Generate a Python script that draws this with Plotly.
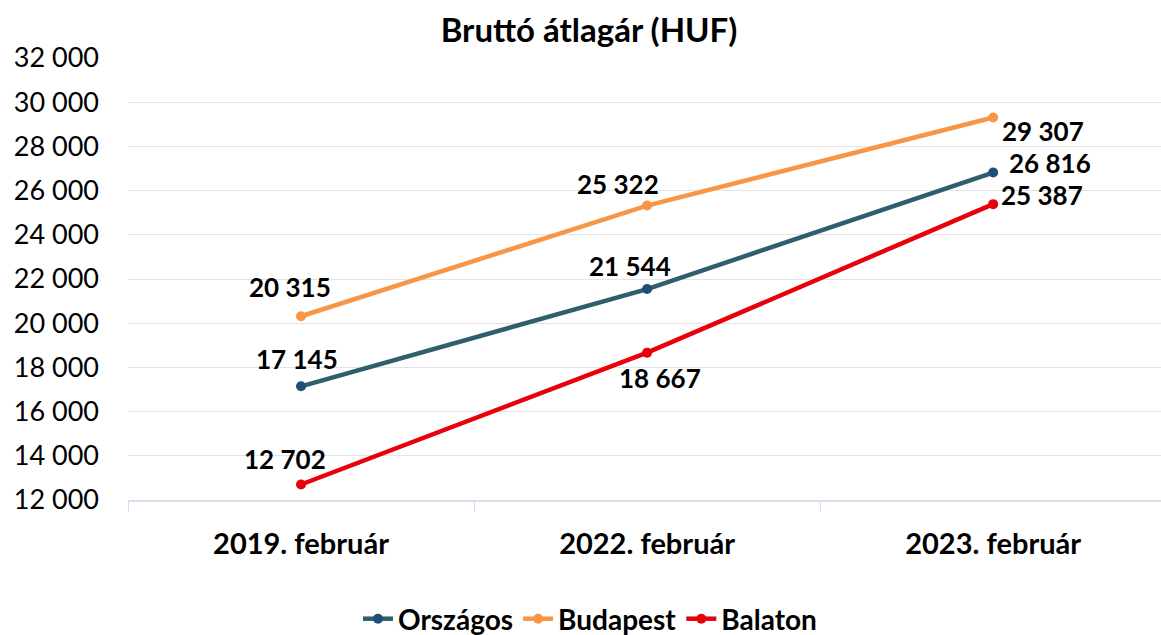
import plotly.graph_objects as go

categories = ["2019. február", "2022. február", "2023. február"]
orszagos = [17145, 21544, 26816]
budapest = [20315, 25322, 29307]
balaton = [12702, 18667, 25387]

def fmt(v):
    return f"{v:,}".replace(",", " ")

FONT = "Lato"
fig = go.Figure()

series = [
    ("Országos", orszagos, "#2F5F6B", "#1F4E79"),
    ("Budapest", budapest, "#F79646", "#F79646"),
    ("Balaton", balaton, "#E8000B", "#E8000B"),
]
for name, vals, lc, mc in series:
    fig.add_trace(go.Scatter(
        x=categories, y=vals, name=name, mode="lines+markers",
        line=dict(color=lc, width=4.5),
        marker=dict(color=mc, size=10),
    ))

# label offsets (xshift, yshift) per series/point
offsets = {
    "Országos": [(-4, 27), (-17, 23), (57, 10)],
    "Budapest": [(-11, 29), (-29, 22), (50, -13)],
    "Balaton": [(-16, 25), (13, -25), (49, 9)],
}
for name, vals, lc, mc in series:
    for c, v, (dx, dy) in zip(categories, vals, offsets[name]):
        fig.add_annotation(x=c, y=v, text=fmt(v), showarrow=False,
                           xshift=dx, yshift=dy,
                           font=dict(family=FONT, size=26, color="black", weight="bold"))

fig.update_layout(
    width=1161, height=635,
    paper_bgcolor="white", plot_bgcolor="white",
    margin=dict(l=128, r=0, t=58, b=135, autoexpand=False),
    title=dict(text="<b>Bruttó átlagár (HUF)</b>", x=589/1161, xanchor="center",
               xref="container", yref="container",
               y=1 - 30/635, yanchor="middle", automargin=False,
               font=dict(family=FONT, size=33, color="black")),
    font=dict(family=FONT, color="black"),
    separators=", ",
    legend=dict(orientation="h", xref="container", yref="container",
                x=590/1161, xanchor="center", y=16/635, yanchor="middle",
                font=dict(family=FONT, size=28, color="black", weight="bold"),
                itemwidth=30, tracegroupgap=0),
    showlegend=True,
)
fig.update_yaxes(range=[12000, 32000], dtick=2000, tickformat=",d",
                 showgrid=True, gridcolor="#E3E3E3", gridwidth=1,
                 zeroline=False, showline=False, automargin=False,
                 tickfont=dict(family=FONT, size=27, color="black"),
                 ticklabelstandoff=28)
fig.update_xaxes(showgrid=False, showline=True, linecolor="#D6DFEB", linewidth=1.5,
                 ticks="outside", tickcolor="#D6DFEB", ticklen=10, automargin=False,
                 tickfont=dict(family=FONT, size=29, color="black", weight="bold"),
                 ticklabelstandoff=17, tickson="boundaries", range=[-0.5, 2.485])

fig.write_html("out.html", config={"displayModeBar": False},
               post_script="document.body.style.margin='0';document.body.style.overflow='hidden';")
